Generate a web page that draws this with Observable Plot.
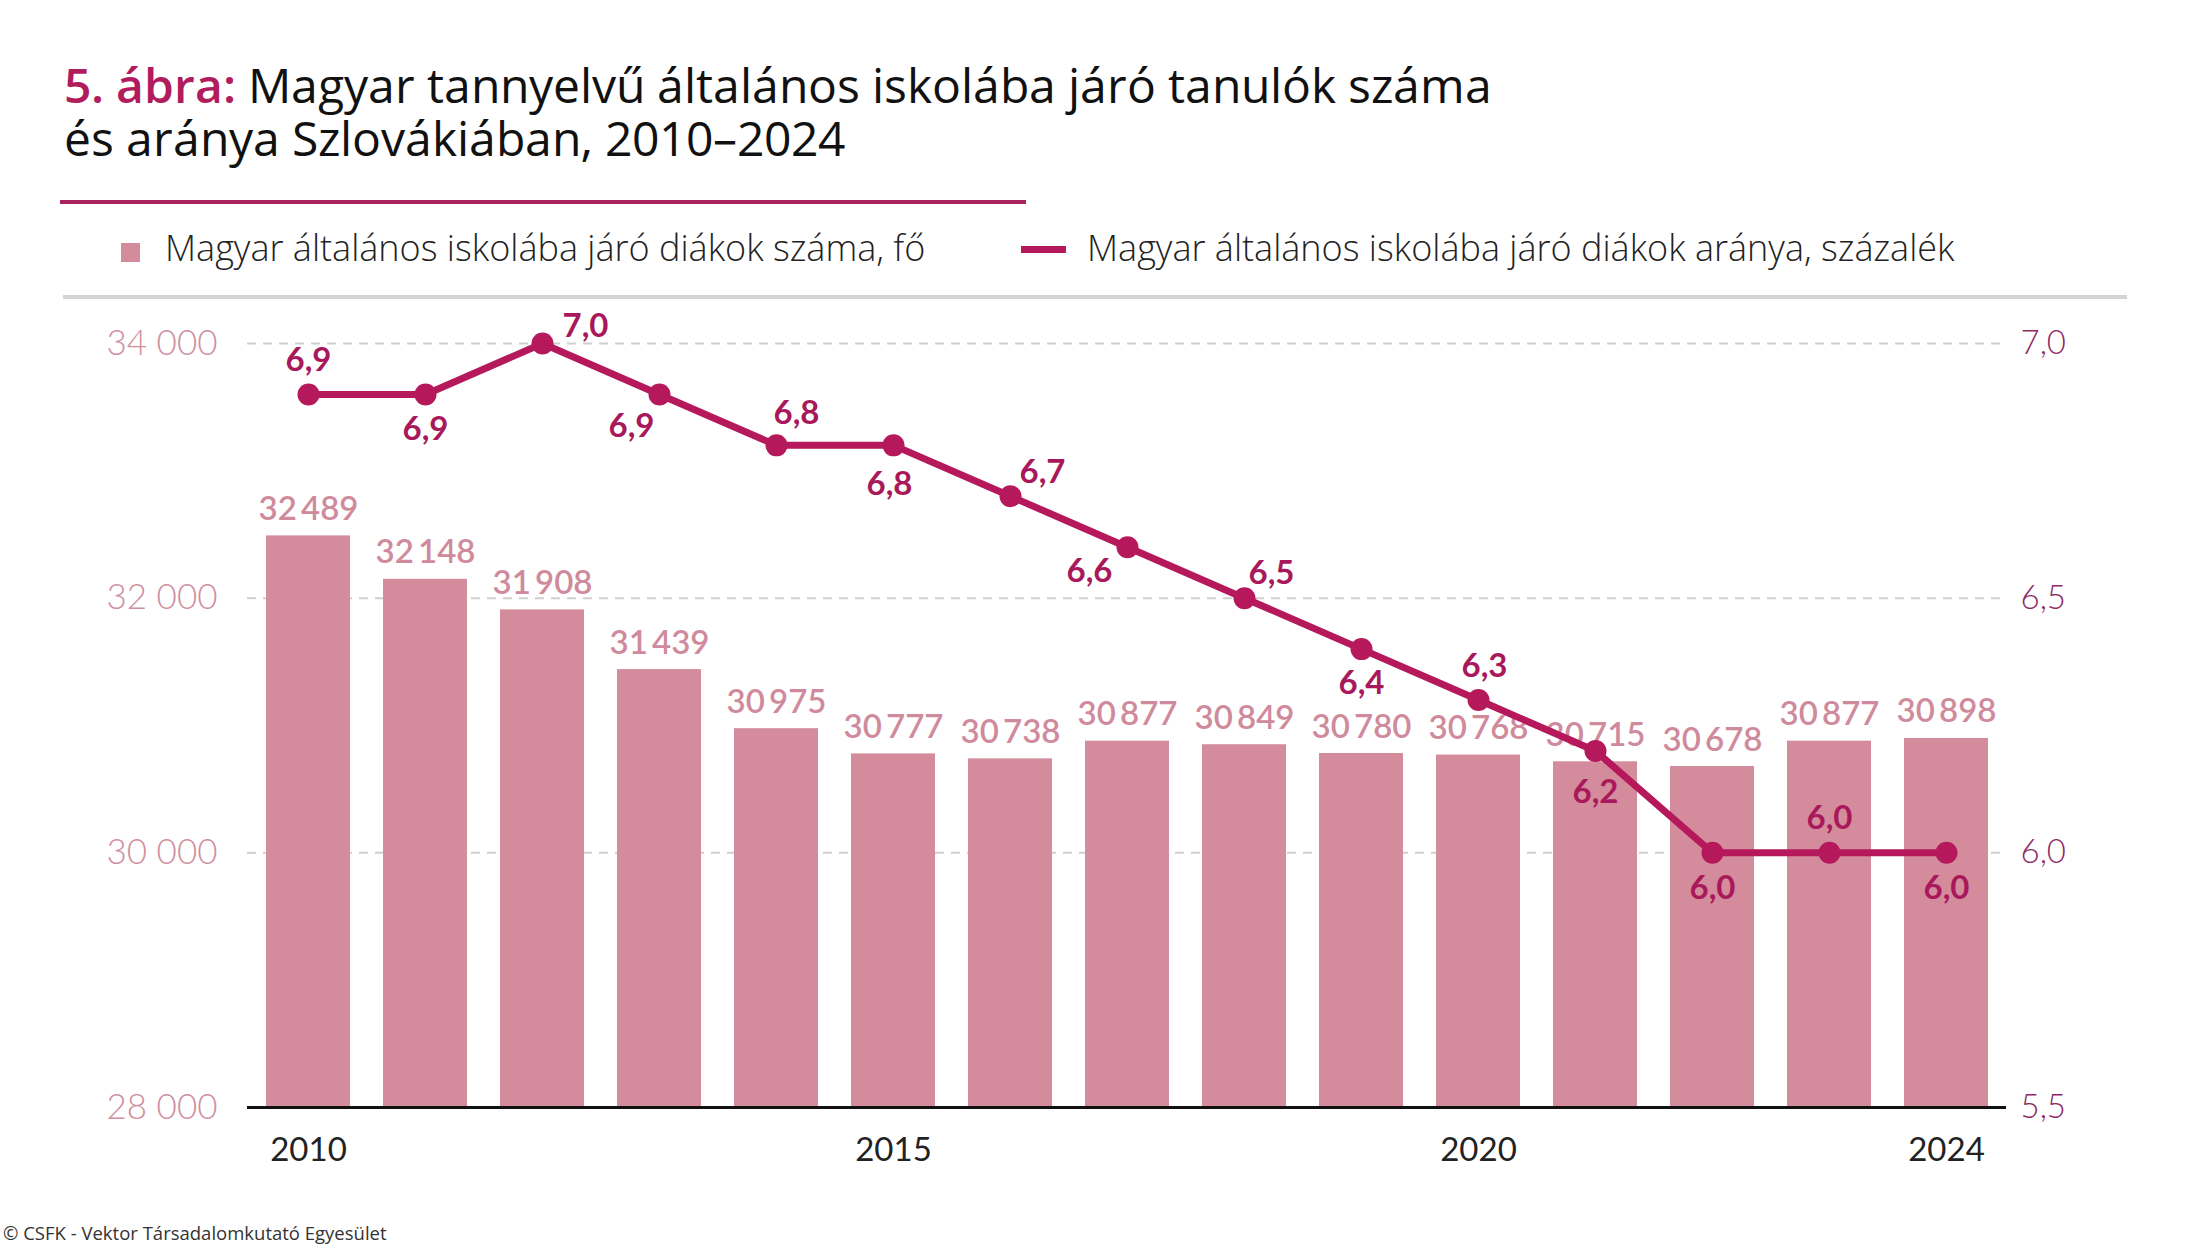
<!DOCTYPE html>
<html>
<head>
<meta charset="utf-8">
<script src="https://cdn.jsdelivr.net/npm/d3@7"></script>
<script src="https://cdn.jsdelivr.net/npm/@observablehq/plot@0.6"></script>
<style>
  @font-face { font-family: "TitleOS"; font-weight: 500; src: local("Open Sans Medium"), local("OpenSans-Medium"), local("Open Sans"), local("Open Sans Regular"), local("OpenSans-Regular"); ascent-override: 90%; descent-override: 20%; line-gap-override: 0%; }
  @font-face { font-family: "TitleOS"; font-weight: 600; src: local("Open Sans SemiBold"), local("OpenSans-SemiBold"), local("Open Sans Semibold"), local("Open Sans"); ascent-override: 90%; descent-override: 20%; line-gap-override: 0%; }
  html, body { margin: 0; padding: 0; background: #fff; }
  body { width: 2187px; height: 1248px; position: relative; overflow: hidden; font-family: "Open Sans", Lato, sans-serif; }
  .abs { position: absolute; white-space: nowrap; }
  .tline { left: 64px; font-size: 48px; line-height: 48px; height: 48px; color: #111; font-weight: 500; font-family: "TitleOS", "Open Sans", sans-serif; }
  .tline span { display: inline-block; line-height: 48px; height: 48px; white-space: pre; }
  #t1 { top: 63px; }
  #t2 { top: 116px; }
  .lead { color: #b01c5c; font-weight: 600; }
  #rule1 { left: 60px; top: 200px; width: 966px; height: 4px; background: #a8245e; }
  #rule2 { left: 63px; top: 295px; width: 2064px; height: 4px; background: #d4d4d4; }
  .legtext { font-size: 36px; font-weight: 300; color: #222; line-height: 40px; font-family: "Open Sans", sans-serif; }
  #sw1 { left: 121px; top: 243px; width: 19px; height: 19px; background: #d48b9c; }
  #sw2 { left: 1021px; top: 246px; width: 45px; height: 7px; background: #b5195b; }
  #lt1 { left: 165px; top: 228px; }
  #lt2 { left: 1087px; top: 228px; }
  #chart { left: 0; top: 300px; }
  #footer { left: 3px; top: 1223px; font-size: 18.5px; color: #333; line-height: 20px; font-family: "Open Sans", sans-serif; }
</style>
</head>
<body>
<div id="t1" class="abs tline"><span class="lead">5. ábra:</span><span> Magyar tannyelvű általános iskolába járó tanulók száma</span></div>
<div id="t2" class="abs tline"><span>és aránya Szlovákiában, 2010–2024</span></div>
<div id="rule1" class="abs"></div>
<div id="sw1" class="abs"></div>
<div id="lt1" class="abs legtext">Magyar általános iskolába járó diákok száma, fő</div>
<div id="sw2" class="abs"></div>
<div id="lt2" class="abs legtext">Magyar általános iskolába járó diákok aránya, százalék</div>
<div id="rule2" class="abs"></div>
<div id="chart" class="abs"></div>
<div id="footer" class="abs">© CSFK - Vektor Társadalomkutató Egyesület</div>
<script>
// ---- data ----
const years = [2010, 2011, 2012, 2013, 2014, 2015, 2016, 2017, 2018, 2019, 2020, 2021, 2022, 2023, 2024];
const students = [32489, 32148, 31908, 31439, 30975, 30777, 30738, 30877, 30849, 30780, 30768, 30715, 30678, 30877, 30898];
const rates = [6.9, 6.9, 7.0, 6.9, 6.8, 6.8, 6.7, 6.6, 6.5, 6.4, 6.3, 6.2, 6.0, 6.0, 6.0];
const leftTicks = [28000, 30000, 32000, 34000];
const rightTicks = [5.5, 6.0, 6.5, 7.0];
const xTicks = [2010, 2015, 2020, 2024];

// ---- styling / label placement ----
const rateLabelOffsets = [[0,-34],[0,35],[43,-17],[-28,32],[20,-32],[-4,39],[32,-24],[-38,24],[27,-25],[0,34],[6,-34],[0,41],[0,36],[0,-34],[0,36]];
const barColor = "#d48b9c";
const lineColor = "#b5195b";

// dual axis mapping: rate 5.5..7.0 <-> students 28000..34000
const rateToY = r => 28000 + (r - 5.5) * 4000;
const yToRate = y => 5.5 + (y - 28000) / 4000;

const rows = years.map((year, i) => ({year, students: students[i], rate: rates[i], ry: rateToY(rates[i])}));

const fmtThin = d => d3.format(",")(d).replace(",", "\u2009");
const fmtSpace = d => d3.format(",")(d).replace(",", " ");
const fmtRate = d => d3.format(".1f")(d).replace(".", ",");

const rateLabels = rows.map((r, i) => Plot.text([r], {
  x: "year", y: "ry", text: d => fmtRate(d.rate),
  dx: rateLabelOffsets[i][0], dy: rateLabelOffsets[i][1],
  fill: "#a8185a", fontSize: 33, fontWeight: 700, textAnchor: "middle", lineAnchor: "middle"
}));

const chart = Plot.plot({
  width: 2187,
  height: 900,
  marginLeft: 247,
  marginRight: 181,
  marginTop: 43,
  marginBottom: 93,
  style: {fontFamily: "Lato, 'Open Sans', sans-serif", background: "transparent", overflow: "visible"},
  x: {type: "band", domain: years, paddingInner: 0.285, paddingOuter: 0.137},
  y: {domain: [28000, 34000]},
  marks: [
    Plot.gridY([30000, 32000, 34000], {stroke: "#cfcfcf", strokeOpacity: 1, strokeWidth: 2, strokeDasharray: "9,7"}),
    Plot.barY(rows, {x: "year", y1: 28000, y2: "students", fill: barColor}),
    Plot.text(rows, {x: "year", y: "students", text: d => fmtThin(d.students), dy: -16, lineAnchor: "bottom",
      fill: "#cf8a9c", fontSize: 33, fontWeight: 600}),
    Plot.ruleY([28000], {stroke: "#111", strokeWidth: 3}),
    Plot.line(rows, {x: "year", y: "ry", stroke: lineColor, strokeWidth: 7}),
    Plot.dot(rows, {x: "year", y: "ry", r: 11, fill: lineColor}),
    ...rateLabels,
    Plot.axisY(leftTicks, {anchor: "left", tickSize: 0, tickPadding: 30, tickFormat: fmtSpace,
      fontSize: 35, fontWeight: 300, fill: "#cf8fa0", label: null}),
    Plot.axisY(rightTicks.map(rateToY), {anchor: "right", tickSize: 0, tickPadding: 14,
      tickFormat: d => fmtRate(yToRate(d)), fontSize: 33, fontWeight: 300, fill: "#8e2a66", label: null}),
    Plot.axisX(xTicks, {tickSize: 0, tickPadding: 30, tickFormat: d => String(d), fontSize: 33, fontWeight: 400, fill: "#222", label: null})
  ]
});
document.getElementById("chart").appendChild(chart);
</script>
</body>
</html>
